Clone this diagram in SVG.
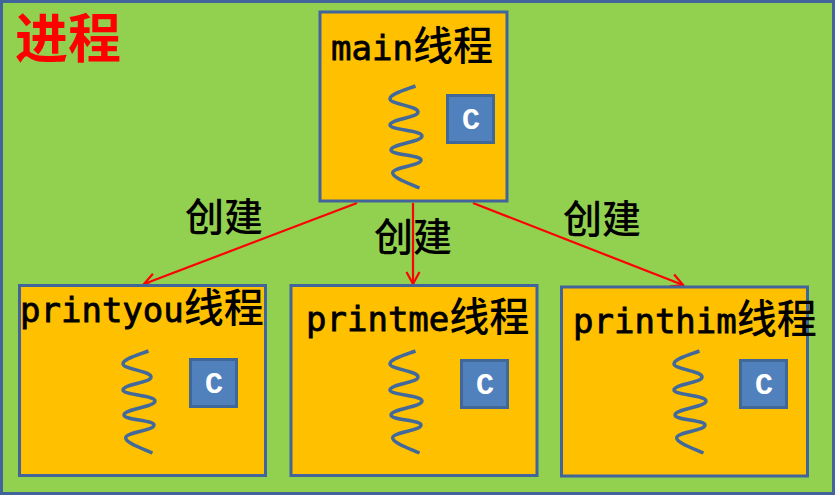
<svg xmlns="http://www.w3.org/2000/svg" width="835" height="495" viewBox="0 0 835 495">
<style>
.box{fill:#ffc000;stroke:#41659a;stroke-width:3}
.cbox{fill:#5081bd;stroke:#3f6797;stroke-width:3}
.spring{fill:none;stroke:#41699c;stroke-width:3.500}
.t{font-family:"DejaVu Sans Mono","Noto Sans CJK SC",monospace;font-size:34px;fill:#000;stroke:#000;stroke-width:.8}
.t tspan{font-family:"Noto Sans CJK SC",sans-serif;font-size:40px;font-weight:500;stroke:none}
.cj{font-family:"Noto Sans CJK SC",sans-serif;font-size:39px;font-weight:500;fill:#000}
.c{font-family:"Liberation Mono",monospace;font-size:30px;font-weight:bold;fill:#fff;text-anchor:middle}
.conn{fill:none;stroke:#f00;stroke-width:2.200}
</style>
<defs>
<marker id="arrow" markerUnits="userSpaceOnUse" markerWidth="20" markerHeight="20" refX="15" refY="10" orient="auto"><path d="M3 3.500L15 10L3 16.500" fill="none" stroke="#f00" stroke-width="2.200"/></marker>
<path id="sp" class="spring" d="M415.500 86C405 90 390 94 390 99C390 104 418 106 418 112C418 118 390 119 390 125C390 130 422 130 422 136C422 142 391 144 391 150C391 155 421 155 421 160C421 166 392 167 392.700 173C393 178 408 183 419.500 188"/>
</defs>
<g id="process">
<rect x="1.500" y="1.500" width="832" height="492" fill="#92d050" stroke="#41659a" stroke-width="3"/>
<text x="15" y="58" font-family="'Noto Sans CJK SC',sans-serif" font-size="53" font-weight="700" fill="#f00">进程</text>
</g>
<g id="connectors">
<path class="conn" marker-end="url(#arrow)" d="M357 203L144 284"/>
<path class="conn" marker-end="url(#arrow)" d="M413 203L413 284"/>
<path class="conn" marker-end="url(#arrow)" d="M473 203L683 285"/>
</g>
<g id="main">
<rect class="box" x="320" y="12" width="187" height="189"/>
<text class="t" x="331" y="60">main<tspan>线程</tspan></text>
<use href="#sp"/>
<rect class="cbox" x="447.500" y="95.500" width="46" height="47"/>
<text class="c" x="471" y="129">C</text>
</g>
<g id="printyou">
<rect class="box" x="19.500" y="285.500" width="246" height="190"/>
<text class="t" x="20" y="322">printyou<tspan>线程</tspan></text>
<use href="#sp" x="-267" y="265"/>
<rect class="cbox" x="190.500" y="359.500" width="46" height="47"/>
<text class="c" x="214" y="393">C</text>
</g>
<g id="printme">
<rect class="box" x="291" y="285.500" width="246" height="190"/>
<text class="t" x="306" y="331">printme<tspan>线程</tspan></text>
<use href="#sp" y="265"/>
<rect class="cbox" x="461.500" y="360.500" width="46" height="47"/>
<text class="c" x="485" y="394">C</text>
</g>
<g id="printhim">
<rect class="box" x="561.500" y="287" width="246" height="189"/>
<text class="t" x="573" y="333">printhim<tspan>线程</tspan></text>
<use href="#sp" x="284" y="265"/>
<rect class="cbox" x="740.500" y="360.500" width="46" height="47"/>
<text class="c" x="764" y="394">C</text>
</g>
<g id="labels">
<text class="cj" x="185" y="231">创建</text>
<text class="cj" x="374" y="251">创建</text>
<text class="cj" x="563" y="233">创建</text>
</g>
</svg>
